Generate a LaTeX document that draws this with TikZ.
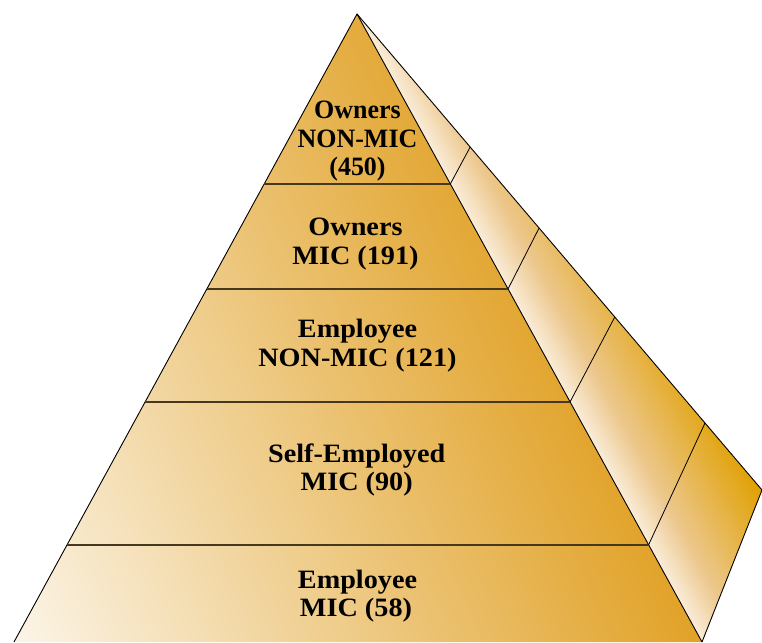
\documentclass[tikz,border=0pt]{standalone}
\usepackage{fontspec}
\newfontfamily\tierfont{Liberation Serif}[FakeStretch=1.065]
\newfontfamily\apexfont{Liberation Serif}[FakeStretch=0.98]

\definecolor{frontlight}{RGB}{253,249,242}
\definecolor{frontgold}{RGB}{225,162,40}
\definecolor{sidelight}{RGB}{250,236,216}
\definecolor{sidemid}{RGB}{236,199,140}
\definecolor{sidegold}{RGB}{224,160,0}
\definecolor{tierline}{RGB}{70,56,30}

% side face: cream along the front edge, deep gold at the back corner
\pgfdeclarehorizontalshading{sideshade}{100bp}{%
  color(0bp)=(sidelight); color(25bp)=(sidelight);
  color(39bp)=(sidemid); color(75bp)=(sidegold); color(100bp)=(sidegold)}

\begin{document}
\begin{tikzpicture}[x=1pt,y=-1pt,
  edge/.style={draw=black, line width=0.9pt, line join=round},
  divider/.style={draw=black, line width=0.8pt},
  tierrule/.style={draw=tierline, line width=1.2pt},
  tiertext/.style={inner sep=0pt, anchor=base,
    font=\tierfont\bfseries\fontsize{26.5}{28}\selectfont},
  apextext/.style={tiertext,
    font=\apexfont\bfseries\fontsize{26.5}{28}\selectfont}]

\useasboundingbox (0,0) rectangle (762,642);

% pyramid corners
\coordinate (apex) at (357,14);
\coordinate (fl)   at (14,642);
\coordinate (fr)   at (702,642);
\coordinate (back) at (762,490);

% tier boundaries on the front face
\coordinate (l1) at (264.2,184); \coordinate (r1) at (450.3,184);
\coordinate (l2) at (206.8,289); \coordinate (r2) at (508.0,289);
\coordinate (l3) at (145.1,402); \coordinate (r3) at (570.0,402);
\coordinate (l4) at (67.0,545);  \coordinate (r4) at (648.5,545);

% matching points on the back edge
\coordinate (b1) at (470.2,147);
\coordinate (b2) at (539.1,228);
\coordinate (b3) at (614.8,317);
\coordinate (b4) at (705.0,423);

% front face
\begin{scope}
  \clip (apex) -- (fl) -- (fr) -- cycle;
  \fill[frontgold] (0,0) rectangle (762,642);
  \begin{scope}[transform canvas={rotate around={23.5:(357,400)}}]
    \shade[left color=frontlight, right color=frontgold]
      (-88,-400) rectangle (576,1200);
  \end{scope}
\end{scope}

% side face
\begin{scope}
  \clip (apex) -- (fr) -- (back) -- cycle;
  \begin{scope}[transform canvas={rotate around={28.8:(357,14)}}]
    \shade[shading=sideshade] (357,-60) rectangle (483,820);
  \end{scope}
\end{scope}

% outlines
\draw[edge] (fl) -- (apex) -- (fr);
\draw[edge] (apex) -- (back) -- (fr);

% tier rules
\draw[tierrule] (l1) -- (r1);
\draw[tierrule] (l2) -- (r2);
\draw[tierrule] (l3) -- (r3);
\draw[tierrule] (l4) -- (r4);

% side dividers
\draw[divider] (r1) -- (b1);
\draw[divider] (r2) -- (b2);
\draw[divider] (r3) -- (b3);
\draw[divider] (r4) -- (b4);

% tier labels
\node[apextext] (t1a) at (357.5,118.3) {Owners};
\node[apextext] (t1b) at (357.5,147.7) {NON-MIC};
\node[apextext] (t1c) at (357.5,175.5) {(450)};

\node[tiertext] (t2a) at (355.5,235.7) {Owners};
\node[tiertext] (t2b) at (355.5,264.3) {MIC (191)};

\node[tiertext] (t3a) at (357.5,337.3) {Employee};
\node[tiertext] (t3b) at (357.5,366.0) {NON-MIC (121)};

\node[tiertext] (t4a) at (356.7,462.0) {Self-Employed};
\node[tiertext] (t4b) at (356.7,490.3) {MIC (90)};

\node[tiertext] (t5a) at (357.5,588.8) {Employee};
\node[tiertext] (t5b) at (356.0,616.7) {MIC (58)};
\end{tikzpicture}
\end{document}
